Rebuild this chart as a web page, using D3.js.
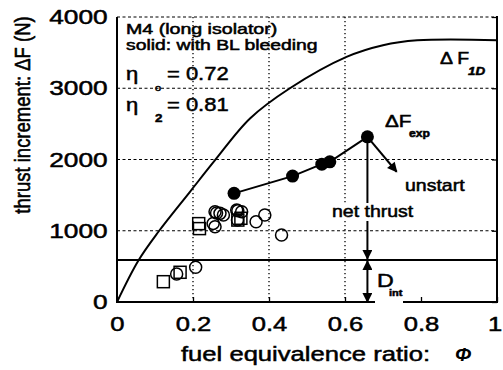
<!DOCTYPE html>
<html>
<head>
<meta charset="utf-8">
<title>thrust increment</title>
<style>
  body { margin: 0; background: #fff; }
  svg text { font-family: "Liberation Sans", Arial, sans-serif; fill: #000; }
</style>
</head>
<body>
<div id="chart"></div>
<script src="https://d3js.org/d3.v7.min.js"></script>
<script>
// data
var phiTicks = [0, 0.2, 0.4, 0.6, 0.8, 1];
var phiTickLabels = ["0", "0.2", "0.4", "0.6", "0.8", "1"];
var dfTicks = [0, 1000, 2000, 3000, 4000];
var dfTickLabels = ["0", "1000", "2000", "3000", "4000"];
var phiGrid = [0.2, 0.4, 0.6];
var dfGrid = [1000, 2000, 3000, 4000];

// theoretical curve dF_1D
var curvePhi = [0, 0.056, 0.109, 0.192, 0.258, 0.35, 0.455, 0.604, 0.70, 0.79, 1.0];
var curveDF  = [0, 580, 986, 1547, 1991, 2576, 3000, 3440, 3604, 3672, 3675];

// solid: with BL bleeding
var bleedPhi = [0.308, 0.462, 0.539, 0.56, 0.659];
var bleedDF  = [1525, 1767, 1935, 1968, 2318];

// open circles
var circPhi = [0.157, 0.207, 0.258, 0.262, 0.271, 0.28, 0.253, 0.258, 0.315, 0.318, 0.328, 0.317, 0.366, 0.389, 0.433];
var circDF  = [393, 487, 1266, 1250, 1244, 1220, 1103, 1056, 1290, 1280, 1266, 1150, 1126, 1220, 940];

// open squares
var sqPhi = [0.122, 0.166, 0.215, 0.217, 0.318, 0.326];
var sqDF  = [285, 417, 1100, 1030, 1150, 1175];

var dInt = 590;
var unstartPhi = 0.736, unstartDF = 1828;

var W = 503, H = 370, SX = 1.22, SW = 0.5;
var x = d3.scaleLinear().domain([0, 1]).range([117, 497]);
var y = d3.scaleLinear().domain([0, 4000]).range([302, 17]);

var svg = d3.select("#chart").append("svg")
  .attr("width", W).attr("height", H);

function txt(px, py, s, size, sx) {
  return svg.append("text")
    .attr("transform", "translate(" + px + "," + py + ") scale(" + (sx || SX) + ",1)")
    .attr("font-size", size)
    .attr("stroke", "#000").attr("stroke-width", SW)
    .text(s);
}

// grid
svg.selectAll(".hg").data(dfGrid).enter().append("line")
  .attr("x1", x(0)).attr("x2", x(1))
  .attr("y1", function(d) { return y(d); }).attr("y2", function(d) { return y(d); })
  .attr("stroke", "#000").attr("stroke-width", 1.2).attr("stroke-dasharray", "3,2.5");
svg.selectAll(".vg").data(phiGrid).enter().append("line")
  .attr("x1", function(d) { return x(d); }).attr("x2", function(d) { return x(d); })
  .attr("y1", y(4000)).attr("y2", y(0))
  .attr("stroke", "#000").attr("stroke-width", 1.3).attr("stroke-dasharray", "1.3,2.7");

// frame: left, right, bottom solid
svg.append("path")
  .attr("d", "M" + x(0) + "," + y(4000) + "V" + y(0) + "H" + x(1) + "V" + (y(4000) - 1))
  .attr("fill", "none").attr("stroke", "#000").attr("stroke-width", 2);

// axes
var xAxis = svg.append("g").attr("transform", "translate(0," + y(0) + ")")
  .call(d3.axisBottom(x).tickValues(phiTicks)
    .tickFormat(function(d, i) { return phiTickLabels[i]; })
    .tickSizeInner(-5).tickSizeOuter(0).tickPadding(14));
xAxis.select(".domain").remove();
xAxis.selectAll("line").attr("stroke-width", 1.3);
xAxis.selectAll("text").attr("font-size", 21).attr("font-family", "Liberation Sans, Arial, sans-serif")
  .attr("transform", "scale(" + SX + ",1)").attr("stroke", "#000").attr("stroke-width", SW)
  .attr("dx", function(d) { return d === 1 ? -2 : 0; });

var yAxis = svg.append("g").attr("transform", "translate(" + x(0) + ",0)")
  .call(d3.axisLeft(y).tickValues(dfTicks)
    .tickFormat(function(d, i) { return dfTickLabels[i]; })
    .tickSizeInner(0).tickSizeOuter(0).tickPadding(7.5));
yAxis.select(".domain").remove();
yAxis.selectAll("text").attr("font-size", 21).attr("font-family", "Liberation Sans, Arial, sans-serif")
  .attr("transform", "scale(1.25,1)").attr("stroke", "#000").attr("stroke-width", SW);

var rAxis = svg.append("g").attr("transform", "translate(" + x(1) + ",0)")
  .call(d3.axisRight(y).tickValues(dfTicks).tickFormat("").tickSizeInner(-5).tickSizeOuter(0));
rAxis.select(".domain").remove();
rAxis.selectAll("line").attr("stroke-width", 1.3);

// D_int line
svg.append("line")
  .attr("x1", x(0)).attr("x2", x(1)).attr("y1", y(dInt)).attr("y2", y(dInt))
  .attr("stroke", "#000").attr("stroke-width", 2);

// dF_1D curve
var curvePts = curvePhi.map(function(p, i) { return [p, curveDF[i]]; });
svg.append("path").datum(curvePts)
  .attr("d", d3.line().x(function(d) { return x(d[0]); }).y(function(d) { return y(d[1]); })
    .curve(d3.curveCatmullRom.alpha(0.5)))
  .attr("fill", "none").attr("stroke", "#000").attr("stroke-width", 2);

// open squares
svg.selectAll(".sq").data(sqPhi).enter().append("rect")
  .attr("x", function(d) { return x(d) - 6; })
  .attr("y", function(d, i) { return y(sqDF[i]) - 6; })
  .attr("width", 12).attr("height", 12)
  .attr("fill", "none").attr("stroke", "#000").attr("stroke-width", 1.5);

// open circles
svg.selectAll(".oc").data(circPhi).enter().append("circle")
  .attr("cx", function(d) { return x(d); })
  .attr("cy", function(d, i) { return y(circDF[i]); })
  .attr("r", 6)
  .attr("fill", "none").attr("stroke", "#000").attr("stroke-width", 1.5);

// arrow heads
var defs = svg.append("defs");
defs.append("marker").attr("id", "head")
  .attr("viewBox", "0 0 10 10").attr("refX", 9).attr("refY", 5)
  .attr("markerUnits", "userSpaceOnUse").attr("markerWidth", 11).attr("markerHeight", 10)
  .attr("orient", "auto-start-reverse")
  .append("path").attr("d", "M0,0L10,5L0,10z").attr("fill", "#000");

// bleeding data line and points
var bleedPts = bleedPhi.map(function(p, i) { return [p, bleedDF[i]]; });
svg.append("path").datum(bleedPts)
  .attr("d", d3.line().x(function(d) { return x(d[0]); }).y(function(d) { return y(d[1]); }))
  .attr("fill", "none").attr("stroke", "#000").attr("stroke-width", 2);
svg.selectAll(".fc").data(bleedPts).enter().append("circle")
  .attr("cx", function(d) { return x(d[0]); })
  .attr("cy", function(d) { return y(d[1]); })
  .attr("r", 6.5).attr("fill", "#000");

var last = bleedPts[bleedPts.length - 1];
// unstart arrow
svg.append("line")
  .attr("x1", x(last[0])).attr("y1", y(last[1]))
  .attr("x2", x(unstartPhi)).attr("y2", y(unstartDF))
  .attr("stroke", "#000").attr("stroke-width", 2).attr("marker-end", "url(#head)");
// net thrust arrow
svg.append("line")
  .attr("x1", x(last[0])).attr("y1", y(last[1]))
  .attr("x2", x(last[0])).attr("y2", y(dInt) - 1)
  .attr("stroke", "#000").attr("stroke-width", 2).attr("marker-end", "url(#head)");
// D_int double arrow
svg.append("line")
  .attr("x1", x(last[0])).attr("y1", y(dInt) + 1)
  .attr("x2", x(last[0])).attr("y2", y(0))
  .attr("stroke", "#000").attr("stroke-width", 2)
  .attr("marker-start", "url(#head)").attr("marker-end", "url(#head)");

// labels
svg.append("rect").attr("x", 330).attr("y", 203).attr("width", 85).attr("height", 18).attr("fill", "#fff");
txt(332, 217, "net thrust", 16);
txt(405, 191, "unstart", 16);
txt(377, 287, "D", 19);
svg.append("rect").attr("x", 375).attr("y", 299).attr("width", 28).attr("height", 6).attr("fill", "#fff");
txt(389, 296, "int", 9).attr("font-weight", "bold");

txt(385, 127, "\u0394F", 17);
txt(409, 137, "exp", 10).attr("font-weight", "bold");
txt(440, 64, "\u0394 F", 16);
txt(468, 75, "1D", 11).attr("font-weight", "bold").attr("font-style", "italic");

txt(126, 34, "M4 (long isolator)", 14, 1.4);
txt(126, 50, "solid: with BL bleeding", 14, 1.38);
txt(126, 80, "\u03b7", 18);
txt(155, 91, "o", 9);
txt(167, 80, "= 0.72", 18);
txt(126, 111, "\u03b7", 18);
txt(155, 122, "2", 11).attr("font-weight", "bold");
txt(167, 111, "= 0.81", 18);

// axis titles
txt(181, 361, "fuel equivalence ratio:", 21);
svg.append("text")
  .attr("transform", "translate(455,361) scale(1.1,1)")
  .attr("font-family", "Liberation Serif, serif").attr("font-style", "italic").attr("font-weight", "bold")
  .attr("font-size", 18).text("\u03a6");
svg.append("text")
  .attr("transform", "translate(30,115) rotate(-90) scale(1,1.2)")
  .attr("text-anchor", "middle").attr("font-size", 18.5)
  .attr("stroke", "#000").attr("stroke-width", SW)
  .text("thrust increment: \u0394F (N)");
</script>
</body>
</html>
